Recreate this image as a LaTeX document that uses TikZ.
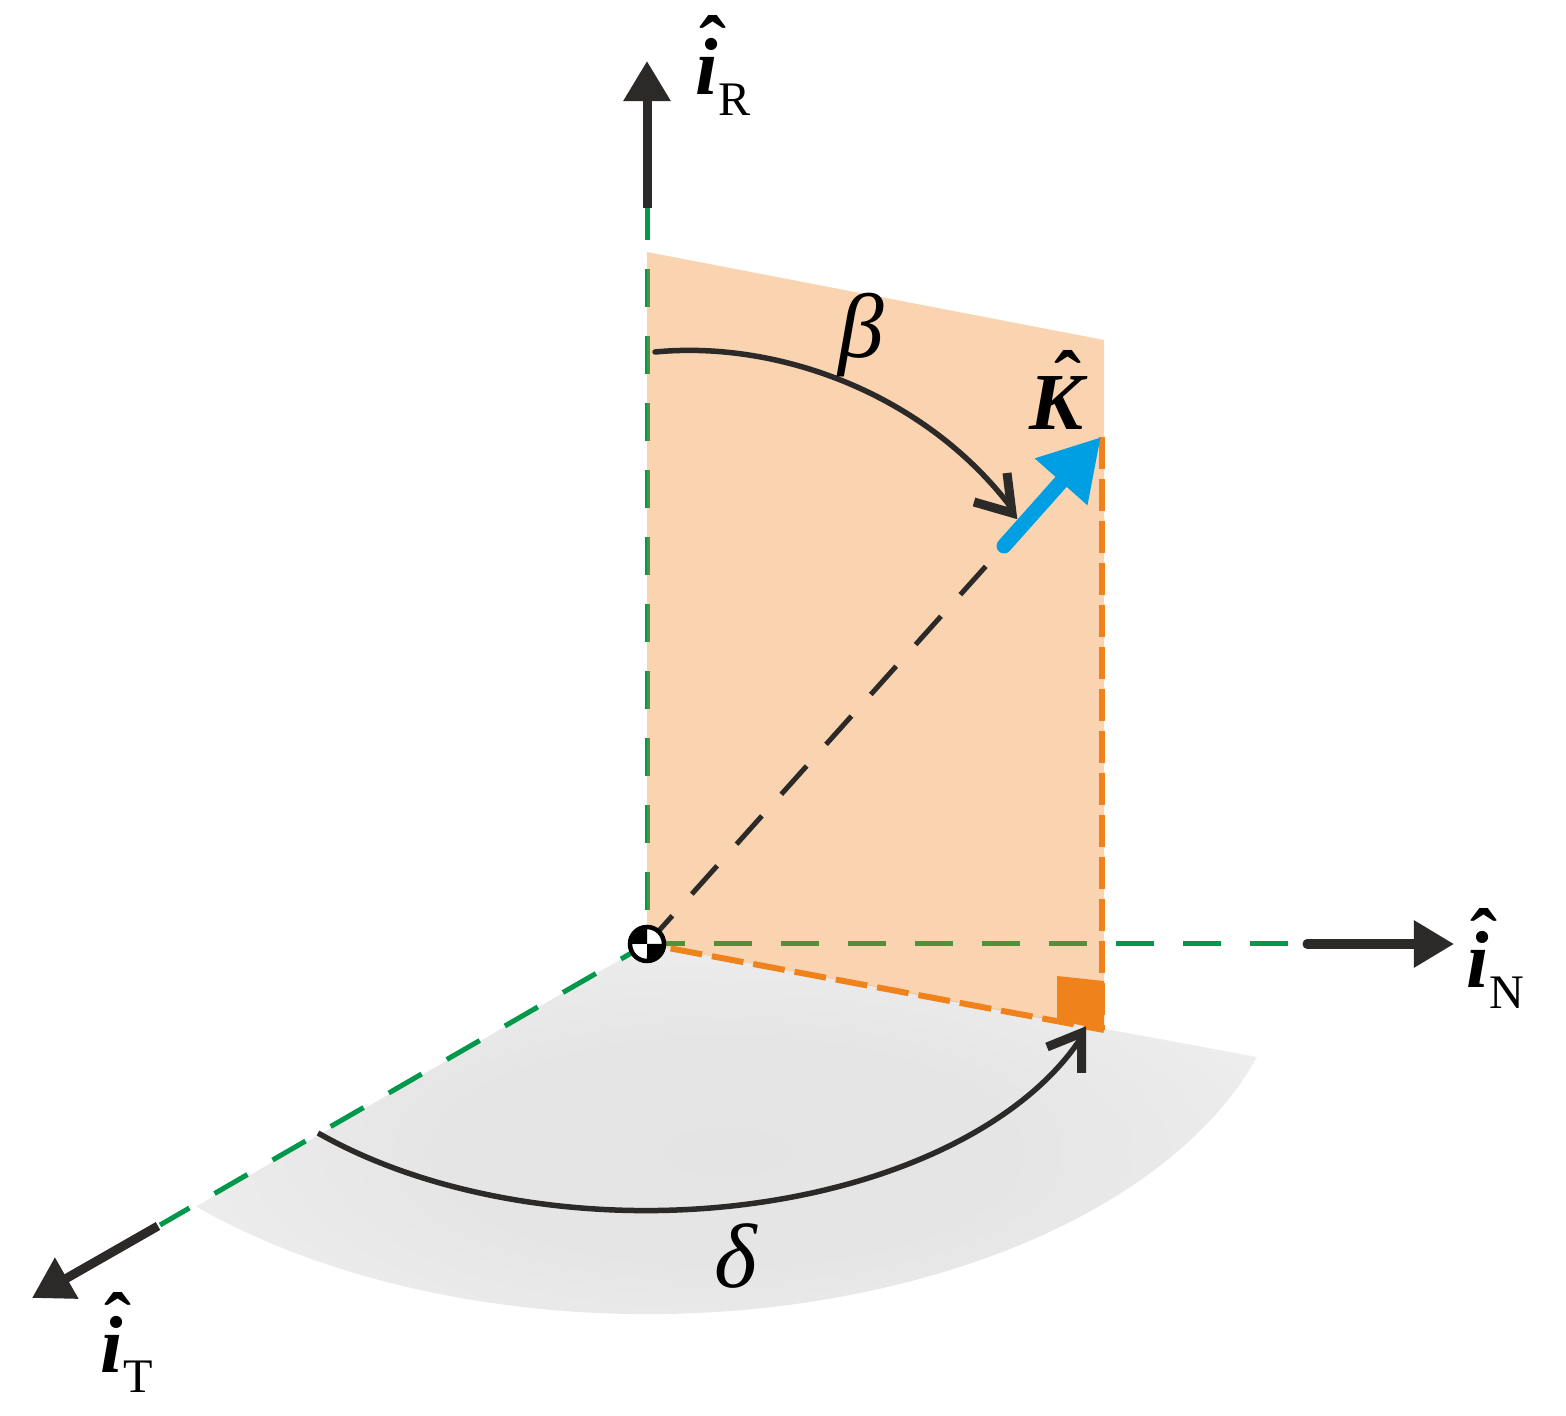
\documentclass[tikz,border=0pt]{standalone}
\usepackage{fontspec}
\setmainfont{Liberation Serif}
\usetikzlibrary{arrows.meta}
\definecolor{inkdark}{HTML}{2B2A29}
\definecolor{axisgreen}{HTML}{00984A}
\definecolor{planeorange}{HTML}{F0821C}
\definecolor{keyblue}{HTML}{009FE3}
\pgfdeclareradialshading{floorshade}{\pgfpoint{0bp}{0bp}}{color(0bp)=(black!10.5); color(14bp)=(black!10); color(25bp)=(black!7.5); color(32bp)=(black!5); color(50bp)=(black!5)}
\newcommand{\hatted}[2]{\makebox[0pt][l]{\hspace{#2}\raisebox{0.225cm}{\textbf{ˆ}}}#1}
\newcommand{\axislabel}[1]{\fontsize{23}{23}\selectfont\hatted{\textbf{\textit{i}}}{0.04cm}\raisebox{-0.2cm}{\fontsize{13.7}{14}\selectfont #1}}

\begin{document}
\begin{tikzpicture}[x=0.01cm, y=-0.01cm]
\tikzset{axisdash/.style={draw=axisgreen, line width=0.05cm, dash pattern=on 0.38cm off 0.29cm},
		orangedash/.style={draw=planeorange, line width=0.06cm, dash pattern=on 0.32cm off 0.1cm},
		axisarrow/.style={draw=inkdark, fill=inkdark, line width=0.09cm, -{Triangle[length=0.4cm, width=0.45cm]}},
		angleline/.style={draw=inkdark, line width=0.055cm},
		anglehead/.style={draw=inkdark, line width=0.09cm, miter limit=10},
		textlabel/.style={inner sep=0pt, anchor=base west},
		greek/.style={inner sep=0pt, font=\fontsize{26}{26}\selectfont\itshape}}
\useasboundingbox (0,0) rectangle (1566,1416);
\coordinate (O) at (647,944);
\coordinate (Rtop) at (647,202);
\coordinate (Nend) at (1307,944);
\coordinate (Tend) at (160,1225);
\coordinate (A) at (647,252);
\coordinate (B) at (1104,340);
\coordinate (C) at (1104,1030);
\coordinate (D) at (1257,1057);
% floor sector
\shade[shading=floorshade] (O) -- (D) arc[start angle=-17.8, end angle=-134.8, x radius=6.4cm, y radius=3.7cm] -- cycle;
% axes
\draw[axisdash] (Rtop) -- (O);
\draw[axisdash] (O) -- (Nend);
\draw[axisdash, dash phase=0.08cm] (O) -- (Tend);
% plane
\fill[planeorange, fill opacity=0.35] (O) -- (A) -- (B) -- (C) -- cycle;
\coordinate (Ktip) at (1101,437);
\coordinate (Cbot) at (1102,1030);
\coordinate (Kstart) at (1004,546);
\draw[orangedash] (Ktip -| Cbot) -- (Cbot);
\draw[orangedash, dash phase=0.18cm] (O) -- (C);
\coordinate (S1) at (1057,976);
\coordinate (S2) at (1104,981);
\coordinate (S3) at (1057,1020);
\fill[planeorange] (S1) -- (S2) -- (C) -- (S3) -- cycle;
\draw[draw=inkdark, line width=0.05cm, dash pattern=on 0.38cm off 0.29cm] (O) -- (Kstart);
% beta
\coordinate (Bstart) at (655,352);
\coordinate (Bend) at (1010,506);
\coordinate (Bh1) at (974,502);
\coordinate (Bh2) at (1012,513);
\coordinate (Bh3) at (1007,473);
\draw[angleline, line cap=round] (Bstart) .. controls (780,340) and (925,395) .. (Bend);
\draw[anglehead] (Bh1) -- (Bh2) -- (Bh3);
% delta
\coordinate (Dstart) at (318,1133);
\coordinate (Dh1) at (1047,1047);
\coordinate (Dh2) at (1081.5,1033);
\coordinate (Dh3) at (1081.5,1073);
\draw[angleline] (Dstart) arc[start angle=-134.8, end angle=-21, x radius=4.65cm, y radius=2.67cm];
\draw[anglehead] (Dh1) -- (Dh2) -- (Dh3);
% arrows
\coordinate (Rs) at (647,208);
\coordinate (Rt) at (647,61);
\coordinate (Ns) at (1307,944);
\coordinate (Nt) at (1454,944);
\coordinate (Ts) at (158,1226);
\coordinate (Tt) at (32,1298);
\draw[axisarrow] (Rs) -- (Rt);
\draw[axisarrow, line cap=round] (Ns) -- (Nt);
\draw[axisarrow] (Ts) -- (Tt);
\draw[draw=keyblue, fill=keyblue, line width=0.15cm, line cap=round, -{Triangle[length=0.6cm, width=0.66cm]}] (Kstart) -- (Ktip);
% origin marker
\node[circle, fill=white, draw=black, line width=0.045cm, minimum size=0.34cm, inner sep=0pt] (CG) at (O) {};
\fill[black] (O) -- (632,944) arc[start angle=180, end angle=90, radius=0.15cm] -- cycle;
\fill[black] (O) -- (662,944) arc[start angle=0, end angle=-90, radius=0.15cm] -- cycle;
% labels
\node[textlabel] (iR) at (695,95) {\axislabel{R}};
\node[textlabel] (iN) at (1466,988) {\axislabel{N}};
\node[textlabel] (iT) at (100,1372) {\axislabel{T}};
\node[textlabel] (K) at (1029,430) {\fontsize{23}{23}\selectfont\hatted{\textbf{\textit{K}}}{0.25cm}};
\node[greek] (beta) at (861,335) {β};
\node[greek] (delta) at (736,1256) {δ};
\end{tikzpicture}
\end{document}
